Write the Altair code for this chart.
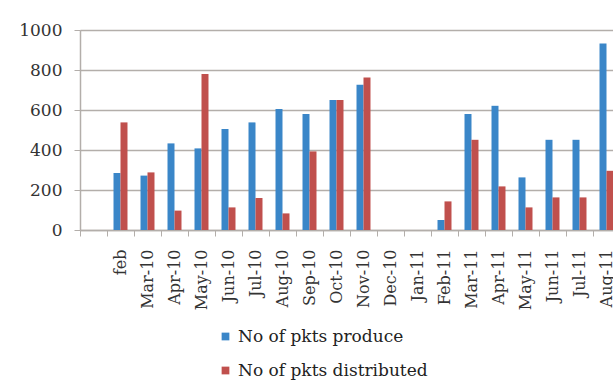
import altair as alt
import pandas as pd

# Monthly packet counts, Feb 2010 – Aug 2011 (first slot on the axis is left blank)
months = [" ", "feb", "Mar-10", "Apr-10", "May-10", "Jun-10", "Jul-10", "Aug-10",
          "Sep-10", "Oct-10", "Nov-10", "Dec-10", "Jan-11", "Feb-11", "Mar-11",
          "Apr-11", "May-11", "Jun-11", "Jul-11", "Aug-11"]
produced = [285, 272, 433, 408, 505, 538, 605, 580, 650, 726, 0, 0,
            50, 580, 621, 263, 451, 451, 933]
distributed = [538, 288, 97, 780, 113, 160, 83, 393, 650, 763, 0, 0,
               143, 451, 218, 113, 163, 163, 296]

series_names = ["No of pkts produce", "No of pkts distributed"]
series_colors = ["#3a86c8", "#c0504d"]

rows = []
for m, p, d in zip(months[1:], produced, distributed):
    rows.append({"month": m, "series": series_names[0], "value": p})
    rows.append({"month": m, "series": series_names[1], "value": d})
df = pd.DataFrame(rows)

FONT = "DejaVu Serif"
GRID = "#b3aeaa"
TEXT = "#333333"

chart = alt.Chart(df).mark_bar().encode(
    x=alt.X(
        "month:N",
        scale=alt.Scale(domain=months, range=[0, 540], paddingInner=0, paddingOuter=0),
        axis=alt.Axis(
            title=None, labelAngle=270, tickBand="extent", tickSize=6,
            tickColor=GRID, domainColor=GRID, domainWidth=1.5, labelPadding=13,
            labelFont=FONT, labelFontSize=16, labelColor=TEXT, grid=False,
        ),
    ),
    xOffset=alt.XOffset(
        "series:N", sort=series_names,
        scale=alt.Scale(paddingInner=0, paddingOuter=0.93),
    ),
    y=alt.Y(
        "value:Q",
        scale=alt.Scale(domain=[0, 1000], nice=False),
        axis=alt.Axis(
            title=None, values=[0, 200, 400, 600, 800, 1000], format="d", grid=True,
            gridColor=GRID, gridWidth=1.5, tickColor=GRID, tickSize=6,
            domainColor=GRID, domainWidth=1.5, labelPadding=12,
            labelFont=FONT, labelFontSize=17, labelColor=TEXT,
        ),
    ),
    color=alt.Color(
        "series:N", sort=series_names,
        scale=alt.Scale(domain=series_names, range=series_colors),
        legend=alt.Legend(
            title=None, orient="none", legendX=137, legendY=298,
            direction="vertical", symbolType="square", symbolSize=60,
            symbolStrokeWidth=0, labelFont=FONT, labelFontSize=17,
            labelColor="#222222", labelOffset=4, rowPadding=16, labelLimit=0,
        ),
    ),
).properties(
    width=533,
    height=200,
    autosize=alt.AutoSizeParams(type="none"),
    padding={"left": 80, "top": 30, "right": 0, "bottom": 157},
).configure_view(
    stroke=None
).configure(background="#ffffff")

chart.save("out.html", embed_options={"renderer": "svg", "actions": False})
